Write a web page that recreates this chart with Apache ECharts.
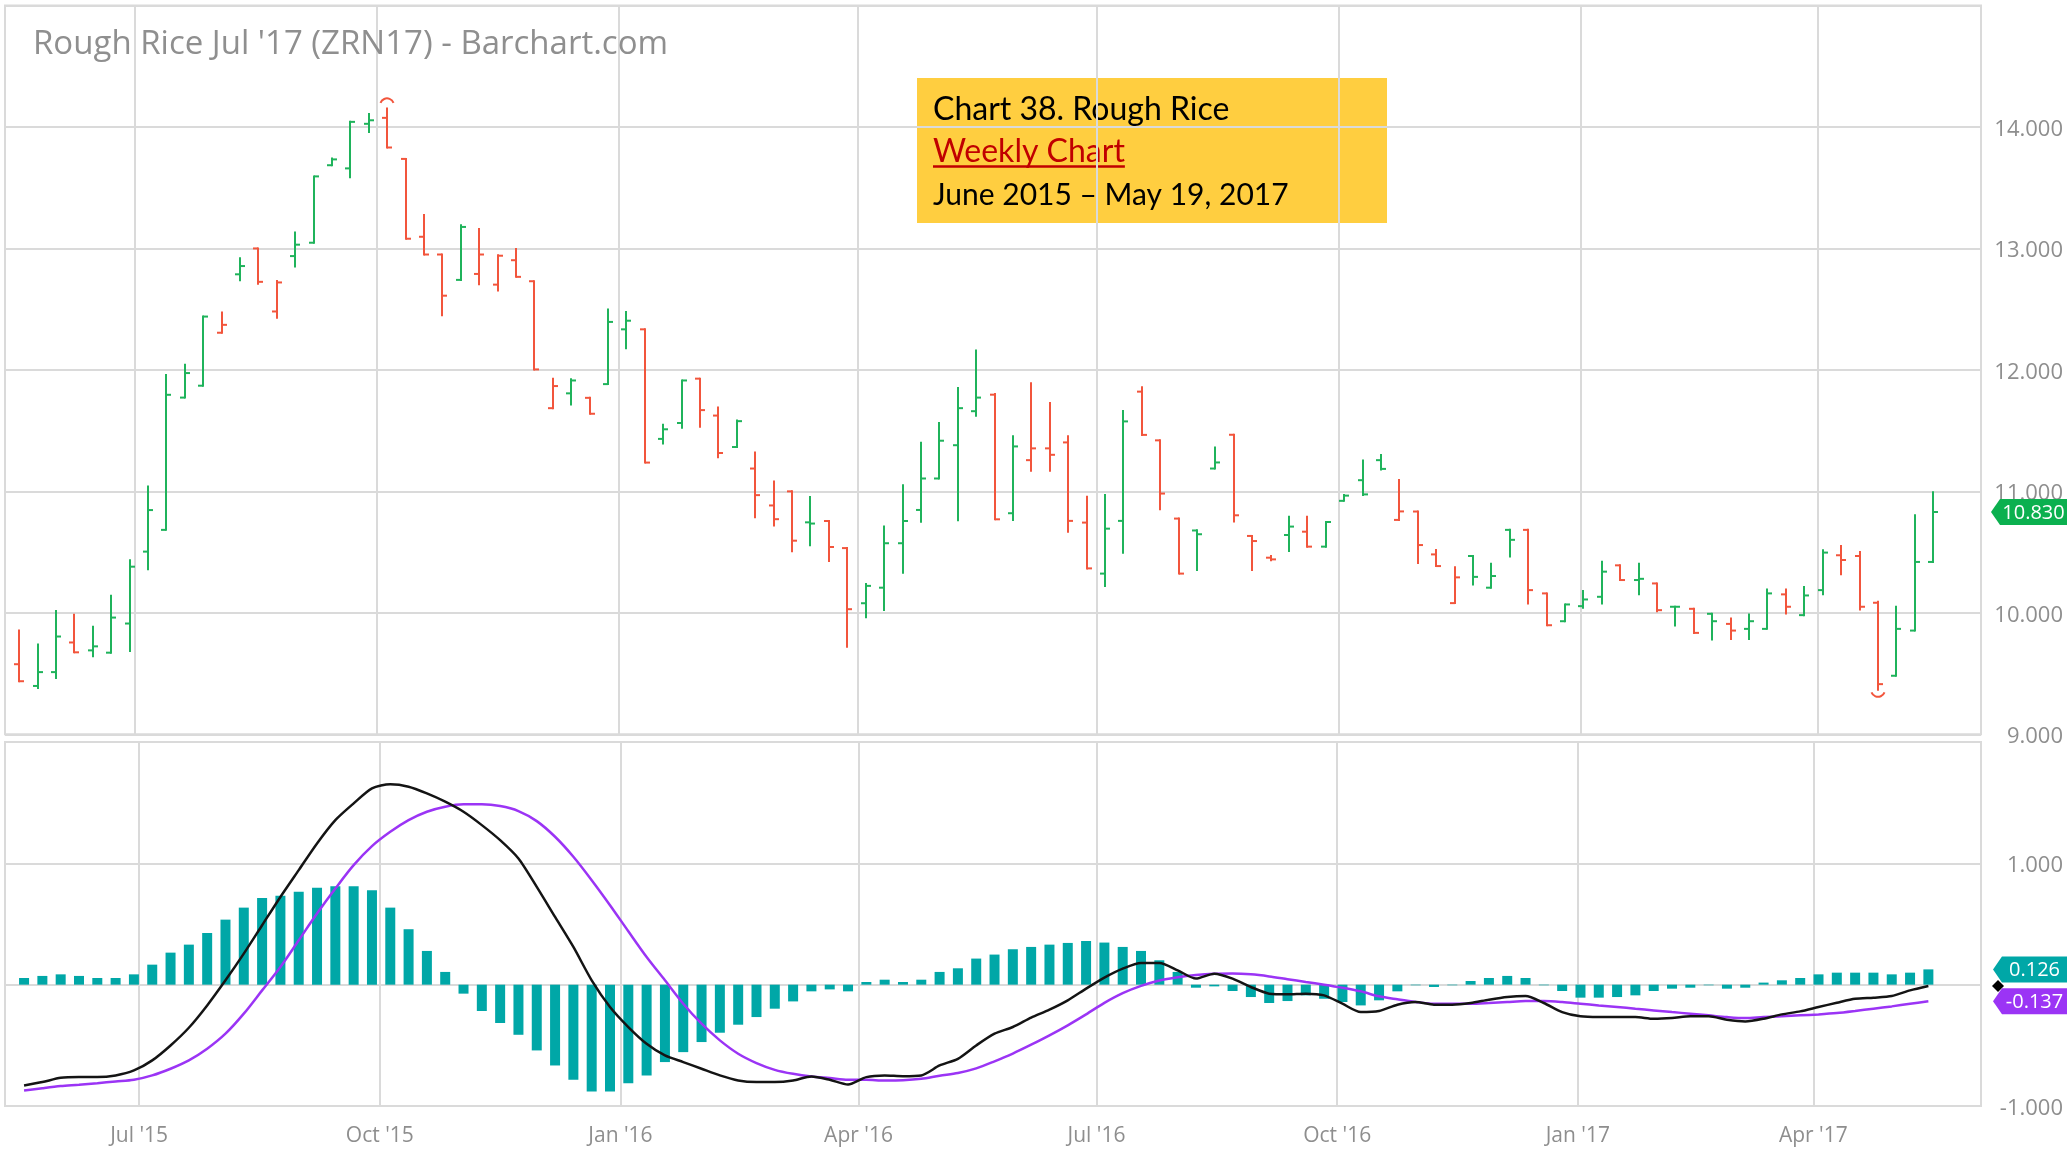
<!DOCTYPE html>
<html>
<head>
<meta charset="utf-8">
<title>Rough Rice Jul '17 (ZRN17) - Weekly</title>
<script src="https://cdn.jsdelivr.net/npm/echarts@6/dist/echarts.min.js"></script>
<style>
  html, body { margin: 0; padding: 0; background: #ffffff; }
  #chart { width: 2070px; height: 1151px; }
</style>
</head>
<body>
<div id="chart"></div>
<script>
// Weekly bars (week starting Monday), ZRN17 rough rice futures
const weeks = [
  '2015-05-18','2015-05-25','2015-06-01','2015-06-08','2015-06-15','2015-06-22','2015-06-29','2015-07-06','2015-07-13','2015-07-20',
  '2015-07-27','2015-08-03','2015-08-10','2015-08-17','2015-08-24','2015-08-31','2015-09-07','2015-09-14','2015-09-21','2015-09-28',
  '2015-10-05','2015-10-12','2015-10-19','2015-10-26','2015-11-02','2015-11-09','2015-11-16','2015-11-23','2015-11-30','2015-12-07',
  '2015-12-14','2015-12-21','2015-12-28','2016-01-04','2016-01-11','2016-01-18','2016-01-25','2016-02-01','2016-02-08','2016-02-15',
  '2016-02-22','2016-02-29','2016-03-07','2016-03-14','2016-03-21','2016-03-28','2016-04-04','2016-04-11','2016-04-18','2016-04-25',
  '2016-05-02','2016-05-09','2016-05-16','2016-05-23','2016-05-30','2016-06-06','2016-06-13','2016-06-20','2016-06-27','2016-07-04',
  '2016-07-11','2016-07-18','2016-07-25','2016-08-01','2016-08-08','2016-08-15','2016-08-22','2016-08-29','2016-09-05','2016-09-12',
  '2016-09-19','2016-09-26','2016-10-03','2016-10-10','2016-10-17','2016-10-24','2016-10-31','2016-11-07','2016-11-14','2016-11-21',
  '2016-11-28','2016-12-05','2016-12-12','2016-12-19','2016-12-26','2017-01-02','2017-01-09','2017-01-16','2017-01-23','2017-01-30',
  '2017-02-06','2017-02-13','2017-02-20','2017-02-27','2017-03-06','2017-03-13','2017-03-20','2017-03-27','2017-04-03','2017-04-10',
  '2017-04-17','2017-04-24','2017-05-01','2017-05-08','2017-05-15'
];

const opens = [
  9.577, 9.398, 9.512, 9.756, 9.691, 9.672, 9.912, 10.504, 10.683, 11.772,
  11.870, 12.306, 12.787, 13.000, 12.481, 12.937, 13.047, 13.685, 13.659, 14.026,
  14.075, 13.737, 13.096, 12.950, 12.741, 12.790, 12.702, 12.903, 12.730, 11.685,
  11.807, 11.770, 11.883, 12.334, 12.334, 11.432, 11.563, 11.928, 11.624, 11.365,
  11.188, 10.884, 11.000, 10.745, 10.756, 10.533, 10.079, 10.207, 10.573, 10.847,
  11.106, 11.380, 11.660, 11.796, 10.820, 11.257, 11.354, 11.403, 10.743, 10.323,
  10.757, 11.821, 11.420, 10.776, 10.678, 11.188, 11.466, 10.633, 10.454, 10.641,
  10.668, 10.545, 10.922, 11.092, 11.257, 10.765, 10.834, 10.481, 10.080, 10.468,
  10.207, 10.683, 10.683, 10.160, 9.931, 10.055, 10.132, 10.391, 10.270, 10.242,
  10.050, 10.033, 9.992, 9.909, 9.868, 9.868, 10.152, 9.981, 10.187, 10.474,
  10.468, 10.083, 9.482, 9.854, 10.419
];
const highs = [
  9.854, 9.740, 10.016, 9.984, 9.886, 10.140, 10.433, 11.041, 11.958, 12.042,
  12.439, 12.472, 12.920, 13.000, 12.732, 13.132, 13.593, 13.740, 14.042, 14.107,
  14.153, 13.737, 13.275, 12.950, 13.190, 13.161, 12.943, 12.995, 12.730, 11.928,
  11.922, 11.770, 12.498, 12.477, 12.334, 11.548, 11.913, 11.928, 11.691, 11.584,
  11.319, 11.082, 11.000, 10.954, 10.756, 10.533, 10.238, 10.710, 11.051, 11.401,
  11.563, 11.852, 12.160, 11.802, 11.453, 11.890, 11.728, 11.453, 10.955, 10.971,
  11.662, 11.857, 11.420, 10.776, 10.680, 11.362, 11.466, 10.633, 10.468, 10.792,
  10.792, 10.748, 10.971, 11.254, 11.300, 11.093, 10.834, 10.517, 10.375, 10.468,
  10.405, 10.683, 10.683, 10.160, 10.069, 10.179, 10.421, 10.391, 10.405, 10.242,
  10.050, 10.033, 9.992, 9.953, 9.986, 10.193, 10.193, 10.212, 10.515, 10.551,
  10.501, 10.091, 10.050, 10.804, 10.992
];
const lows = [
  9.437, 9.382, 9.463, 9.675, 9.642, 9.672, 9.685, 10.358, 10.683, 11.772,
  11.870, 12.306, 12.738, 12.709, 12.429, 12.852, 13.047, 13.685, 13.587, 13.958,
  13.831, 13.080, 12.950, 12.449, 12.741, 12.706, 12.653, 12.766, 12.004, 11.685,
  11.715, 11.639, 11.883, 12.178, 11.237, 11.395, 11.523, 11.532, 11.280, 11.365,
  10.786, 10.719, 10.506, 10.557, 10.426, 9.720, 9.963, 10.024, 10.329, 10.749,
  11.106, 10.762, 11.623, 10.770, 10.765, 11.169, 11.169, 10.668, 10.366, 10.220,
  10.495, 11.465, 10.853, 10.323, 10.352, 11.188, 10.751, 10.352, 10.432, 10.509,
  10.545, 10.545, 10.922, 10.970, 11.180, 10.764, 10.410, 10.385, 10.080, 10.234,
  10.207, 10.463, 10.077, 9.898, 9.931, 10.041, 10.077, 10.270, 10.152, 10.014,
  9.895, 9.835, 9.780, 9.785, 9.785, 9.868, 9.994, 9.981, 10.152, 10.317,
  10.028, 9.366, 9.482, 9.854, 10.419
];
const closes = [
  9.437, 9.512, 9.805, 9.675, 9.724, 9.961, 10.380, 10.846, 11.795, 11.974,
  12.439, 12.371, 12.855, 12.725, 12.720, 13.031, 13.593, 13.733, 14.042, 14.055,
  13.831, 13.080, 12.950, 12.611, 13.177, 12.950, 12.940, 12.766, 12.004, 11.867,
  11.913, 11.639, 12.395, 12.405, 11.237, 11.511, 11.913, 11.669, 11.316, 11.578,
  10.969, 10.771, 10.594, 10.735, 10.542, 10.030, 10.222, 10.573, 10.756, 11.106,
  11.417, 11.685, 11.772, 10.770, 11.370, 11.354, 11.301, 10.757, 10.366, 10.693,
  11.576, 11.465, 10.982, 10.323, 10.647, 11.238, 10.803, 10.591, 10.440, 10.710,
  10.545, 10.748, 10.965, 10.975, 11.185, 10.835, 10.558, 10.385, 10.292, 10.296,
  10.303, 10.601, 10.187, 9.898, 10.069, 10.110, 10.339, 10.270, 10.280, 10.022,
  10.050, 9.835, 9.931, 9.854, 9.931, 10.160, 10.050, 10.143, 10.496, 10.435,
  10.050, 9.413, 9.868, 10.419, 10.830
];
// settlement of the week before the first bar (colours the first bar)
const priorClose = 9.60;

// MACD (12, 26, 9)
const macdLine = [
  -0.831, -0.803, -0.768, -0.762, -0.762, -0.748, -0.707, -0.624, -0.501, -0.355,
  -0.171, 0.036, 0.256, 0.490, 0.723, 0.944, 1.164, 1.356, 1.494, 1.618,
  1.651, 1.631, 1.576, 1.508, 1.425, 1.315, 1.191, 1.040, 0.806, 0.558,
  0.311, 0.036, -0.184, -0.349, -0.487, -0.583, -0.638, -0.693, -0.748, -0.790,
  -0.803, -0.803, -0.790, -0.757, -0.784, -0.823, -0.762, -0.748, -0.754, -0.748,
  -0.666, -0.611, -0.501, -0.404, -0.349, -0.272, -0.206, -0.129, -0.033, 0.058,
  0.132, 0.179, 0.179, 0.118, 0.050, 0.091, 0.050, -0.019, -0.074, -0.080,
  -0.074, -0.088, -0.157, -0.226, -0.217, -0.165, -0.143, -0.165, -0.165, -0.151,
  -0.124, -0.102, -0.094, -0.151, -0.226, -0.261, -0.267, -0.267, -0.267, -0.281,
  -0.275, -0.261, -0.261, -0.289, -0.303, -0.281, -0.245, -0.220, -0.184, -0.149,
  -0.116, -0.107, -0.094, -0.047, -0.011
];
const signalLine = [
  -0.872, -0.853, -0.836, -0.825, -0.812, -0.798, -0.784, -0.748, -0.693, -0.624,
  -0.528, -0.404, -0.239, -0.047, 0.146, 0.366, 0.586, 0.792, 0.985, 1.142,
  1.260, 1.356, 1.425, 1.466, 1.486, 1.486, 1.472, 1.431, 1.348, 1.219,
  1.054, 0.861, 0.655, 0.440, 0.228, 0.036, -0.157, -0.322, -0.459, -0.569,
  -0.646, -0.702, -0.735, -0.757, -0.770, -0.784, -0.784, -0.790, -0.788, -0.776,
  -0.750, -0.728, -0.690, -0.632, -0.568, -0.495, -0.418, -0.335, -0.245, -0.150,
  -0.070, -0.010, 0.035, 0.062, 0.080, 0.090, 0.092, 0.085, 0.068, 0.045,
  0.022, 0.000, -0.025, -0.055, -0.096, -0.121, -0.143, -0.157, -0.157, -0.157,
  -0.151, -0.143, -0.135, -0.135, -0.143, -0.157, -0.171, -0.184, -0.198, -0.212,
  -0.226, -0.239, -0.253, -0.267, -0.275, -0.267, -0.261, -0.253, -0.245, -0.234,
  -0.217, -0.198, -0.179, -0.157, -0.137
];
const histogram = [
  0.055, 0.072, 0.085, 0.072, 0.055, 0.055, 0.085, 0.165, 0.264, 0.330,
  0.426, 0.536, 0.635, 0.715, 0.732, 0.765, 0.798, 0.811, 0.811, 0.778,
  0.635, 0.457, 0.278, 0.105, -0.074, -0.217, -0.316, -0.413, -0.542, -0.666,
  -0.784, -0.880, -0.880, -0.812, -0.748, -0.638, -0.556, -0.473, -0.396, -0.330,
  -0.267, -0.198, -0.138, -0.055, -0.039, -0.055, 0.022, 0.041, 0.022, 0.041,
  0.105, 0.135, 0.215, 0.248, 0.292, 0.311, 0.330, 0.344, 0.360, 0.347,
  0.311, 0.278, 0.201, 0.105, -0.025, -0.014, -0.052, -0.102, -0.151, -0.135,
  -0.088, -0.116, -0.143, -0.171, -0.129, -0.055, -0.005, -0.019, -0.005, 0.030,
  0.055, 0.072, 0.055, -0.005, -0.052, -0.107, -0.107, -0.102, -0.088, -0.052,
  -0.033, -0.025, -0.005, -0.033, -0.025, 0.017, 0.036, 0.055, 0.085, 0.099,
  0.099, 0.099, 0.085, 0.099, 0.126
];

const monthNames = ['Jan','Feb','Mar','Apr','May','Jun','Jul','Aug','Sep','Oct','Nov','Dec'];
const priceTicks = { min: 9, max: 15, interval: 1 };
const macdTicks = { min: -1, max: 2, interval: 1, labelled: [-1, 1] };
const timeRange = { min: '2015-05-12 15:00:00', max: '2017-06-02 05:00:00' };

const UP = '#1fb35b';
const DOWN = '#f2553c';
const HIST = '#00a7a7';
const MACD_COLOR = '#141414';
const SIGNAL_COLOR = '#9b34f5';
const GRID_LINE = '#dadada';
const AXIS_TEXT = '#8e8e8e';

const chart = echarts.init(document.getElementById('chart'), null, { renderer: 'canvas' });

let hiIdx = 0, loIdx = 0;
highs.forEach((h, i) => { if (h > highs[hiIdx]) hiIdx = i; });
lows.forEach((l, i) => { if (l < lows[loIdx]) loIdx = i; });

function barColor(i) {
  const prev = i === 0 ? priorClose : closes[i - 1];
  return closes[i] >= prev ? UP : DOWN;
}

function renderOHLC(params, api) {
  const i = params.dataIndex;
  const t = api.value(0);
  const pH = api.coord([t, api.value(2)]);
  const x = Math.round(pH[0]);
  const yH = pH[1];
  const yL = api.coord([t, api.value(3)])[1];
  const yO = api.coord([t, api.value(1)])[1];
  const yC = api.coord([t, api.value(4)])[1];
  const tick = 5;
  const style = { stroke: barColor(i), fill: 'none', lineWidth: 2, lineCap: 'butt' };
  const children = [
    { type: 'line', shape: { x1: x, y1: yH - 1, x2: x, y2: yL + 1 }, style },
    { type: 'line', shape: { x1: x - tick, y1: yO, x2: x, y2: yO }, style },
    { type: 'line', shape: { x1: x, y1: yC, x2: x + tick, y2: yC }, style }
  ];
  // small caps marking the extreme high and low of the visible range
  if (i === hiIdx) {
    children.push({ type: 'arc', shape: { cx: x, cy: yH - 3, r: 7, startAngle: Math.PI * 1.12, endAngle: Math.PI * 1.88, clockwise: true }, style });
  }
  if (i === loIdx) {
    children.push({ type: 'arc', shape: { cx: x, cy: yL, r: 7, startAngle: Math.PI * 0.12, endAngle: Math.PI * 0.88, clockwise: true }, style });
  }
  return { type: 'group', children };
}

// value tags drawn just right of the plot, at the level of the latest values
function tagRenderer(kinds) {
  return function (params, api) {
    const cs = params.coordSys;
    const right = cs.x + cs.width;
    const v = api.value(1);
    const y = api.coord([api.value(0), v])[1];
    const kind = kinds[params.dataIndex];
    if (kind.shape === 'diamond') {
      const cx = right + 17;
      return { type: 'polygon', shape: { points: [[cx - 6, y], [cx, y - 6], [cx + 6, y], [cx, y + 6]] }, style: { fill: kind.color } };
    }
    const x0 = right + kind.offset, x1 = right + 86, h = 13;
    return {
      type: 'group',
      children: [
        { type: 'polygon', shape: { points: [[x0, y], [x0 + 9, y - h], [x1, y - h], [x1, y + h], [x0 + 9, y + h]] }, style: { fill: kind.color } },
        { type: 'text', style: { text: v.toFixed(3), x: (x0 + 9 + x1) / 2, y: y + 1, fill: '#ffffff', font: '20px "Open Sans"', align: 'center', verticalAlign: 'middle' } }
      ]
    };
  };
}

const last = weeks.length - 1;
const quarterLabel = (value) => {
  const d = new Date(value);
  return monthNames[d.getMonth()] + " '" + String(d.getFullYear()).slice(2);
};

const timeAxisBase = {
  type: 'time',
  min: timeRange.min,
  max: timeRange.max,
  splitNumber: 6,
  axisLine: { show: false },
  axisTick: { show: false },
  splitLine: { show: true, lineStyle: { color: GRID_LINE, width: 2 } },
  minorTick: { show: false }
};

// measure the red subtitle so the underline matches its width
const measureCtx = document.createElement('canvas').getContext('2d');
measureCtx.font = '32px Lato';
const weeklyWidth = measureCtx.measureText('Weekly Chart').width;

// value labels sit a hair below their grid line
const valueLabel = {
  align: 'right', margin: 82, color: AXIS_TEXT, fontSize: 22, fontFamily: '"Open Sans"',
  verticalAlign: 'top', lineHeight: 5
};

const option = {
  animation: false,
  backgroundColor: '#ffffff',
  textStyle: { fontFamily: '"Open Sans"' },
  grid: [
    { left: 5, right: 89, top: 5.5, height: 728.8, show: true, borderColor: GRID_LINE, borderWidth: 2 },
    { left: 5, right: 89, top: 742, height: 364, show: true, borderColor: GRID_LINE, borderWidth: 2 }
  ],
  xAxis: [
    Object.assign({}, timeAxisBase, { gridIndex: 0, axisLabel: { show: false } }),
    Object.assign({}, timeAxisBase, {
      gridIndex: 1,
      axisLabel: { show: true, formatter: quarterLabel, color: AXIS_TEXT, fontSize: 21, fontFamily: '"Open Sans"', margin: 30, verticalAlign: 'middle' }
    })
  ],
  yAxis: [
    {
      type: 'value', gridIndex: 0, position: 'right',
      min: priceTicks.min, max: priceTicks.max, interval: priceTicks.interval,
      axisLine: { show: false }, axisTick: { show: false },
      splitLine: { lineStyle: { color: GRID_LINE, width: 2 } },
      axisLabel: Object.assign({ formatter: (v) => v.toFixed(3), showMaxLabel: false }, valueLabel)
    },
    {
      type: 'value', gridIndex: 1, position: 'right',
      min: macdTicks.min, max: macdTicks.max, interval: macdTicks.interval,
      axisLine: { show: false }, axisTick: { show: false },
      splitLine: { lineStyle: { color: GRID_LINE, width: 2 } },
      axisLabel: Object.assign({
        formatter: (v) => (macdTicks.labelled.indexOf(v) >= 0 ? v.toFixed(3) : ''),
        showMaxLabel: false
      }, valueLabel)
    }
  ],
  series: [
    {
      name: 'ZRN17', type: 'custom', xAxisIndex: 0, yAxisIndex: 0,
      renderItem: renderOHLC, clip: false,
      dimensions: [{ name: 'date', type: 'time' }, 'open', 'high', 'low', 'close'],
      encode: { x: 0, y: [1, 2, 3, 4] },
      data: weeks.map((d, i) => [d, opens[i], highs[i], lows[i], closes[i]]),
      z: 3
    },
    {
      name: 'Histogram', type: 'bar', xAxisIndex: 1, yAxisIndex: 1,
      barWidth: 10, itemStyle: { color: HIST },
      data: weeks.map((d, i) => [d, histogram[i]]),
      z: 2
    },
    {
      name: 'MACD', type: 'line', xAxisIndex: 1, yAxisIndex: 1,
      showSymbol: false, smooth: 0.25, lineStyle: { color: MACD_COLOR, width: 2.5 },
      data: weeks.map((d, i) => [d, macdLine[i]]),
      z: 4
    },
    {
      name: 'Signal', type: 'line', xAxisIndex: 1, yAxisIndex: 1,
      showSymbol: false, smooth: 0.3, lineStyle: { color: SIGNAL_COLOR, width: 2.5 },
      data: weeks.map((d, i) => [d, signalLine[i]]),
      z: 3
    },
    {
      name: 'Last price', type: 'custom', xAxisIndex: 0, yAxisIndex: 0, clip: false, silent: true,
      renderItem: tagRenderer([{ shape: 'tag', color: '#0bb04f', offset: 10 }]),
      dimensions: [{ name: 'date', type: 'time' }, 'value'],
      encode: { x: 0, y: 1 },
      data: [[weeks[last], closes[last]]],
      z: 10
    },
    {
      name: 'Last MACD', type: 'custom', xAxisIndex: 1, yAxisIndex: 1, clip: false, silent: true,
      renderItem: tagRenderer([
        { shape: 'diamond', color: '#000000' },
        { shape: 'tag', color: HIST, offset: 12 },
        { shape: 'tag', color: SIGNAL_COLOR, offset: 12 }
      ]),
      dimensions: [{ name: 'date', type: 'time' }, 'value'],
      encode: { x: 0, y: 1 },
      data: [[weeks[last], macdLine[last]], [weeks[last], histogram[last]], [weeks[last], signalLine[last]]],
      z: 10
    }
  ],
  graphic: [
    {
      type: 'text', x: 33, y: 45, z: 20,
      style: { text: "Rough Rice Jul '17 (ZRN17) - Barchart.com", font: '33px "Open Sans"', fill: '#8f8f8f', verticalAlign: 'middle' }
    },
    {
      type: 'group', x: 917, y: 78, z: 30,
      children: [
        { type: 'rect', shape: { x: 0, y: 0, width: 470, height: 145 }, style: { fill: 'rgba(255, 194, 16, 0.80)' } },
        { type: 'text', x: 16, y: 32, style: { text: 'Chart 38. Rough Rice', font: '32px Lato', fill: '#000000', verticalAlign: 'middle' } },
        { type: 'text', x: 16, y: 74, style: { text: 'Weekly Chart', font: '32px Lato', fill: '#c00000', verticalAlign: 'middle' } },
        { type: 'line', shape: { x1: 16, y1: 88.5, x2: 16 + weeklyWidth, y2: 88.5 }, style: { stroke: '#c00000', lineWidth: 2.5 } },
        { type: 'text', x: 16, y: 117, style: { text: 'June 2015 \u2013 May 19, 2017', font: '30px Lato', fill: '#000000', verticalAlign: 'middle' } }
      ]
    }
  ]
};

chart.setOption(option);
</script>
</body>
</html>
